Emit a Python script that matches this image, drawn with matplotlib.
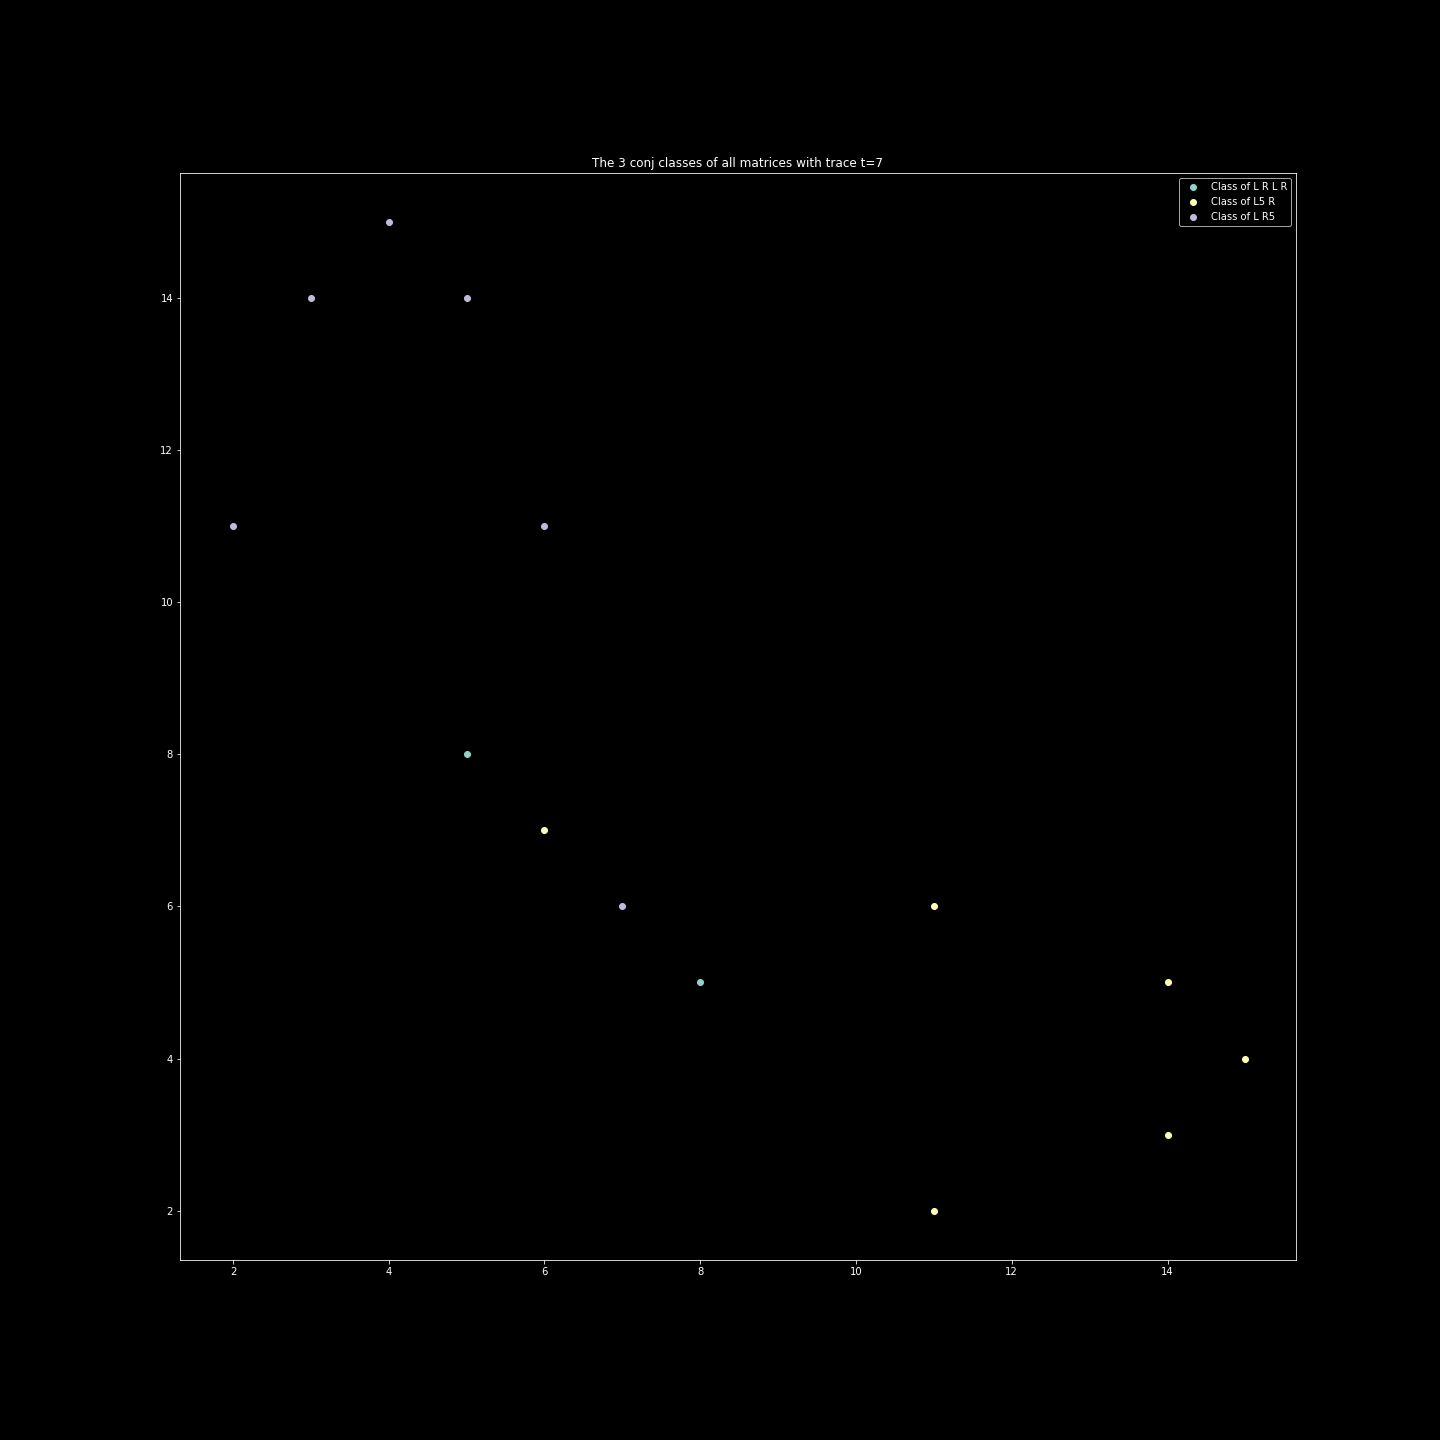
import matplotlib
matplotlib.use('Agg')
import matplotlib.pyplot as plt

plt.style.use('dark_background')

# points of each conjugacy class
x_lrlr = [5, 8]
y_lrlr = [8, 5]

x_l5r = [6, 11, 14, 15, 14, 11]
y_l5r = [7, 6, 5, 4, 3, 2]

x_lr5 = [2, 3, 4, 5, 6, 7]
y_lr5 = [11, 14, 15, 14, 11, 6]

fig = plt.figure(figsize=(20, 20), dpi=72)
ax = fig.add_subplot(111)
fig.subplots_adjust(left=0.125, right=0.9, top=0.88, bottom=0.125)

ax.scatter(x_lrlr, y_lrlr, label='Class of L R L R')
ax.scatter(x_l5r, y_l5r, label='Class of L5 R')
ax.scatter(x_lr5, y_lr5, label='Class of L R5')

ax.set_xlim(1.32, 15.65)
ax.set_title('The 3 conj classes of all matrices with trace t=7')
ax.legend(loc='upper right')

plt.savefig('out.png', dpi=72)
